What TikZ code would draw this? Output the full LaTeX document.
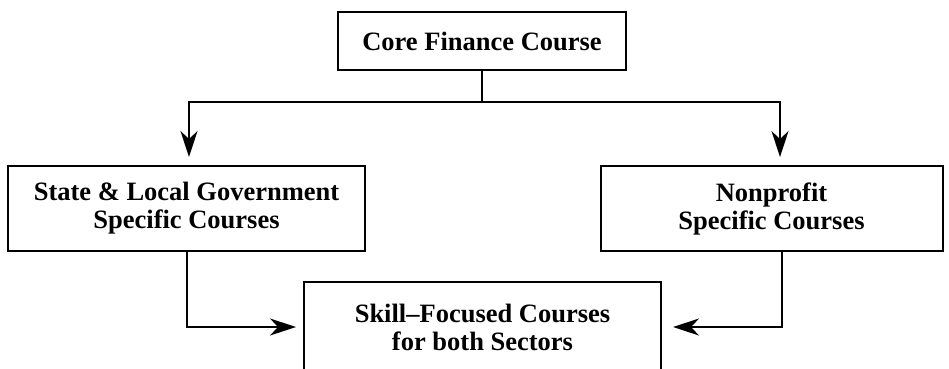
\documentclass[tikz,border=0pt]{standalone}
\usepackage{fontspec}
\setmainfont{Liberation Serif}
\usetikzlibrary{arrows.meta}
\begin{document}
\begin{tikzpicture}[x=1pt,y=-1pt,
  box/.style={draw=black,line width=2pt,rectangle,inner sep=0pt,align=center,
    font=\bfseries\fontsize{26.5}{28}\selectfont},
  flow/.style={draw=black,line width=2pt,-{Stealth[length=26pt,width=17pt,inset=8pt]}},
  link/.style={draw=black,line width=2pt}]
\clip (0,0) rectangle (949,368);
\fill[white] (0,0) rectangle (949,368);

% course boxes
\node[box,minimum width=288pt,minimum height=58pt] (core) at (482,41) {Core Finance Course};
\node[box,minimum width=357pt,minimum height=85pt] (gov) at (186.5,208.5)
  {State \& Local Government\\Specific Courses};
\node[box,minimum width=342pt,minimum height=85pt] (npo) at (771.5,208.5)
  {Nonprofit\\Specific Courses};
\node[box,minimum width=357pt,minimum height=90pt] (skill) at (482.5,327)
  {Skill–Focused Courses\\for both Sectors};

% branching from the core course
\coordinate (split) at (482,102);
\draw[link] (core.south) -- (split);
\draw[flow,shorten >=8pt] (split) -| ([xshift=2.5pt]gov.north);
\draw[flow,shorten >=8pt] (split) -| ([xshift=8.5pt]npo.north);

% both sectors feed the skill-focused courses
\draw[flow,shorten >=7pt] ([xshift=0.5pt]gov.south) |- (skill.west);
\draw[flow,shorten >=11pt] ([xshift=10.5pt]npo.south) |- (skill.east);
\end{tikzpicture}
\end{document}
